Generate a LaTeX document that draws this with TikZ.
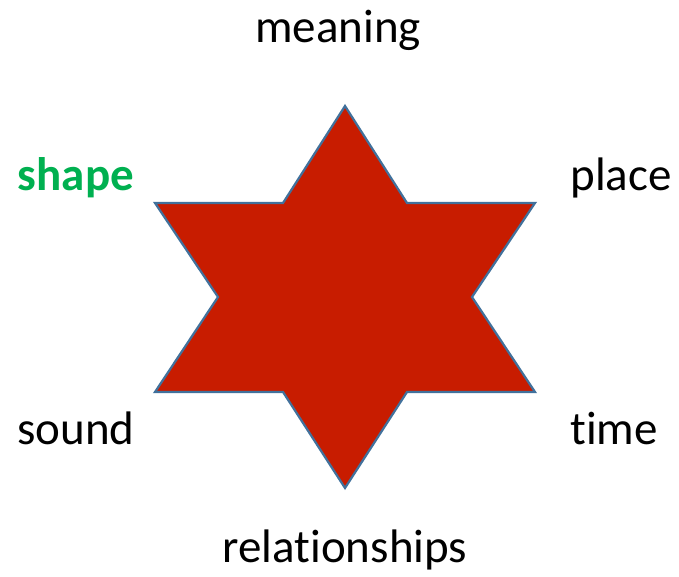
\documentclass[tikz,border=0pt]{standalone}
\usepackage{fontspec}
\setmainfont{Carlito}[Ligatures={NoCommon}]
\usepackage{xcolor}
\definecolor{starred}{HTML}{C81C00}
\definecolor{staredge}{HTML}{41719C}
\definecolor{labelgreen}{HTML}{00B050}
\tikzset{
  word/.style = {anchor=base, inner sep=0pt, font=\fontsize{47}{52}\selectfont},
  star/.style = {fill=starred, draw=staredge, line width=2.2pt, line join=miter}
}

\begin{document}
\begin{tikzpicture}[x=1pt,y=-1pt]
  \useasboundingbox (0,0) rectangle (679,577);

  % the star
  \draw[star] (345,106) -- (407,203) -- (535,203) -- (472,297) -- (535,392)
    -- (407,392) -- (345,488) -- (283,392) -- (155,392) -- (218,297)
    -- (155,203) -- (283,203) -- cycle;

  % labels
  \node[word] (meaning) at (338,43) {meaning};
  \node[word, text=labelgreen, font=\fontsize{47}{52}\selectfont\bfseries] (shape) at (76,191) {shape};
  \node[word] (place) at (621,191) {place};
  \node[word] (sound) at (76,444) {sound};
  \node[word] (time) at (614,444) {time};
  \node[word] (relationships) at (345,562) {relationships};

\end{tikzpicture}
\end{document}
